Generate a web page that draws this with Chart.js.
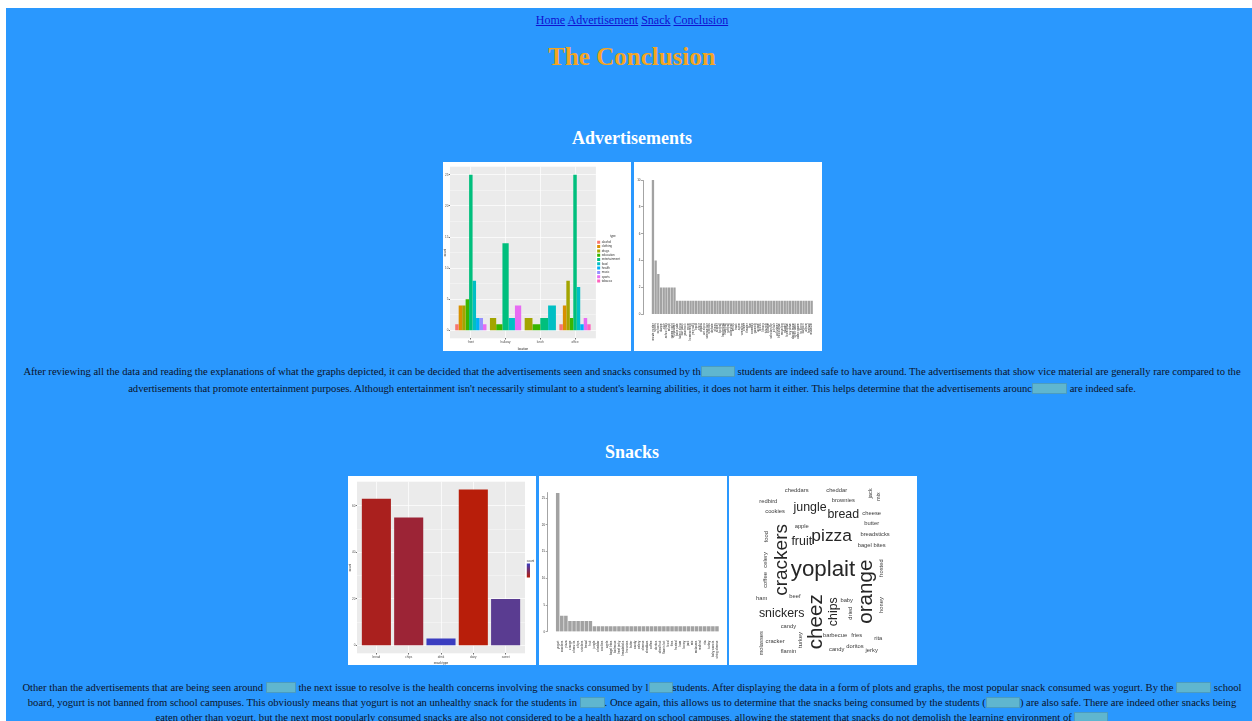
<!DOCTYPE html>
<html>
<head>
<meta charset="utf-8">
<title>The Conclusion</title>
<script src="https://cdn.jsdelivr.net/npm/chart.js@4.4.1/dist/chart.umd.min.js"></script>
<style>
  html { margin: 0; background: #fff; overflow: hidden; }
  body { margin: 8px 0 0 6px; width: 1252px; height: 760px; background: #2a98fe; position: relative;
         font-family: "Liberation Serif", "Times New Roman", serif; }
  .line { position: absolute; left: 0; width: 100%; text-align: center; white-space: nowrap; }
  #nav { top: 5px; font-size: 12px; line-height: 14px; }
  #nav a { color: #1010d0; }
  #title { top: 34px; font-size: 25px; line-height: 30px; font-weight: bold; color: #f4a522; }
  .head { font-size: 18px; line-height: 22px; font-weight: bold; color: #fff; }
  .fig { position: absolute; width: 188px; height: 189px; background: #fff; }
  .fig canvas { display: block; }
  .para { font-size: 10.6px; color: #0a1228; }
  .p1 { line-height: 17px; }
  .p2 { line-height: 15px; }
  .box { display: inline-block; height: 11px; background: #5fb6cf; border: 1px solid #4b9cc0;
         box-sizing: border-box; vertical-align: -2px; }
</style>
</head>
<body>
<div id="nav" class="line"><a href="#">Home</a> <a href="#">Advertisement</a> <a href="#">Snack</a> <a href="#">Conclusion</a></div>
<div id="title" class="line">The Conclusion</div>

<div class="line head" style="top:119px">Advertisements</div>
<div class="fig" style="left:437px;top:154px"><canvas id="adType" width="188" height="189"></canvas></div>
<div class="fig" style="left:628px;top:154px"><canvas id="adCount" width="188" height="189"></canvas></div>

<div class="line para p1" style="top:355px">After reviewing all the data and reading the explanations of what the graphs depicted, it can be decided that the advertisements seen and snacks consumed by th<span class="box" style="width:34px"></span> students are indeed safe to have around. The advertisements that show vice material are generally rare compared to the</div>
<div class="line para p1" style="top:372px">advertisements that promote entertainment purposes. Although entertainment isn't necessarily stimulant to a student's learning abilities, it does not harm it either. This helps determine that the advertisements arounc<span class="box" style="width:35px"></span> are indeed safe.</div>

<div class="line head" style="top:433px">Snacks</div>
<div class="fig" style="left:342px;top:468px"><canvas id="snackGroup" width="188" height="189"></canvas></div>
<div class="fig" style="left:533px;top:468px"><canvas id="snackCount" width="188" height="189"></canvas></div>
<div class="fig" style="left:723px;top:468px"><canvas id="snackCloud" width="188" height="189"></canvas></div>

<div class="line para p2" style="top:672px">Other than the advertisements that are being seen around <span class="box" style="width:30px"></span> the next issue to resolve is the health concerns involving the snacks consumed by l<span class="box" style="width:24px"></span>students. After displaying the data in a form of plots and graphs, the most popular snack consumed was yogurt. By the <span class="box" style="width:35px"></span> school</div>
<div class="line para p2" style="top:687px">board, yogurt is not banned from school campuses. This obviously means that yogurt is not an unhealthy snack for the students in <span class="box" style="width:25px"></span>. Once again, this allows us to determine that the snacks being consumed by the students (<span class="box" style="width:34px"></span>) are also safe. There are indeed other snacks being</div>
<div class="line para p2" style="top:702px">eaten other than yogurt, but the next most popularly consumed snacks are also not considered to be a health hazard on school campuses, allowing the statement that snacks do not demolish the learning environment of <span class="box" style="width:34px;height:18px;vertical-align:-9px"></span></div>

<script>
// advertisement types seen at each location
const locations = ['front', 'hallway', 'lunch', 'office'];
const adTypes = ['alcohol', 'clothing', 'drugs', 'education', 'entertainment', 'food', 'health', 'music', 'sports', 'tobacco'];
const adTypeCounts = [
  [1, null, null, 1],
  [4, null, null, 4],
  [4, 2, 2, 8],
  [5, 1, 1, 2],
  [25, 14, 2, 25],
  [8, 2, 4, 7],
  [2, null, null, 1],
  [2, null, null, null],
  [1, 4, null, 2],
  [null, null, null, 1]
];
const adTypeTicks = [0, 5, 10, 15, 20, 25];

// count of each advertisement
const adNames = ['movie poster', 'sports', 'concert', 'dance', 'club', 'school play', 'music', 'game night', 'fundraiser', 'bake sale',
  'talent show', 'car wash', 'yearbook', 'prom', 'homecoming', 'pep rally', 'band', 'choir', 'drama', 'art show',
  'science fair', 'robotics', 'debate', 'chess', 'soccer', 'football', 'basketball', 'baseball', 'softball', 'volleyball',
  'tennis', 'track', 'swim', 'wrestling', 'cheer', 'theater', 'film', 'comedy', 'gaming', 'anime',
  'books', 'library', 'tutoring', 'college', 'scholarship', 'job fair', 'volunteer', 'blood drive', 'recycling', 'garden',
  'food drive', 'toy drive', 'dance team', 'spirit week', 'video game', 'tv show', 'cartoon', 'album', 'festival', 'museum'];
const adCounts = [10, 4, 3, 2, 2, 2, 2, 2, 2,
  1, 1, 1, 1, 1, 1, 1, 1, 1, 1,
  1, 1, 1, 1, 1, 1, 1, 1, 1, 1,
  1, 1, 1, 1, 1, 1, 1, 1, 1, 1,
  1, 1, 1, 1, 1, 1, 1, 1, 1, 1,
  1, 1, 1, 1, 1, 1, 1, 1, 1, 1,
  1];
const adCountTicks = [0, 2, 4, 6, 8, 10];

// snacks by kind
const snackGroups = ['bread', 'chips', 'drink', 'dairy', 'sweet'];
const snackGroupCounts = [63, 55, 3, 67, 20];
const snackGroupTicks = [0, 20, 40, 60];

// count of each snack
const snackNames = ['yogurt', 'crackers', 'pizza', 'orange', 'cheez its', 'chips', 'snickers', 'bread', 'fruit', 'jungle',
  'cheddar', 'cookies', 'apple', 'bagel bites', 'barbecue', 'beef jerky', 'breadsticks', 'brownies', 'butter', 'candy',
  'celery', 'cheese', 'cheddars', 'coffee', 'doritos', 'dried fruit', 'flamin hot', 'food', 'fries', 'frosted',
  'ham', 'honey', 'jack', 'mix', 'molasses', 'redbird', 'rita', 'turkey', 'baby carrots', 'string cheese'];
const snackCounts = [26, 3, 3, 2, 2, 2, 2, 2, 2,
  1, 1, 1, 1, 1, 1, 1, 1, 1, 1,
  1, 1, 1, 1, 1, 1, 1, 1, 1, 1,
  1, 1, 1, 1, 1, 1, 1, 1, 1, 1,
  1];
const snackCountTicks = [0, 5, 10, 15, 20, 25];

// word cloud of snack words (x, y in percent of the picture)
const cloudWords = ['cheddars', 'cheddar', 'jack', 'mix', 'redbird', 'brownies', 'cookies', 'jungle', 'bread', 'cheese',
  'butter', 'apple', 'crackers', 'fruit', 'pizza', 'breadsticks', 'bagel bites', 'yoplait', 'orange', 'cheez',
  'chips', 'snickers', 'coffee', 'celery', 'food', 'frosted', 'honey', 'ham', 'beef', 'baby',
  'dried', 'candy', 'turkey', 'barbecue', 'fries', 'rita', 'cracker', 'molasses', 'flamin', 'candy',
  'doritos', 'jerky'];
const cloudFreq = [2, 2, 2, 2, 2, 2, 2, 6, 6, 2,
  2, 2, 10, 6, 9, 2, 2, 12, 11, 11,
  6, 6, 2, 2, 2, 2, 2, 2, 2, 2,
  2, 2, 2, 2, 2, 2, 2, 2, 2, 2,
  2, 2];
const cloudX = [36, 57.3, 75, 79.4, 20.9, 60.8, 24.5, 43.1, 60.8, 75.9,
  75.9, 38.7, 28.3, 38.7, 54.6, 77.7, 75.9, 50, 73.2, 46.6,
  55.5, 28, 19.5, 19.5, 20, 81.2, 81.2, 17.4, 35.1, 62.6,
  64.4, 31.6, 37.8, 56.4, 67.9, 79.4, 24.5, 17.4, 31.6, 57.3,
  67, 75.9];
const cloudY = [7.4, 7.4, 9.2, 11, 13.2, 12.7, 18.9, 16.6, 20.6, 19.7,
  25, 26.8, 44.4, 34.8, 32.1, 30.8, 36.5, 49.7, 61.2, 77.1,
  71.8, 72.6, 55, 44.4, 32.1, 48.8, 68.3, 64.7, 63.9, 65.6,
  72.6, 79.7, 86.8, 84.1, 84.1, 85.9, 87.7, 88.5, 93, 91.5,
  90.3, 92.1];
const cloudVertical = [0, 0, 1, 1, 0, 0, 0, 0, 0, 0,
  0, 0, 1, 0, 0, 0, 0, 0, 1, 1,
  1, 0, 1, 1, 1, 1, 1, 0, 0, 0,
  1, 0, 1, 0, 0, 0, 0, 1, 0, 0,
  0, 0];

const hueColors = ['#F8766D', '#D89000', '#A3A500', '#39B600', '#00BF7D', '#00BFC4', '#00B0F6', '#9590FF', '#E76BF3', '#FF62BC'];
const snackGroupColors = ['#aa201e', '#9c2436', '#3a3dc0', '#b81e0a', '#5a3c91'];

Chart.defaults.animation = false;
Chart.defaults.responsive = false;
Chart.defaults.devicePixelRatio = 1;
Chart.defaults.font.family = '"Liberation Sans", Arial, sans-serif';
Chart.defaults.plugins.tooltip.enabled = false;

// grey ggplot panel behind the bars
const panelBg = {
  id: 'panelBg',
  beforeDraw(chart, args, opts) {
    if (!opts.color) return;
    const { ctx, chartArea: a } = chart;
    ctx.save();
    ctx.fillStyle = opts.color;
    ctx.fillRect(a.left, a.top, a.width, a.height);
    ctx.restore();
  }
};

const tickList = list => scale => { scale.ticks = list.map(v => ({ value: v })); };
const isMajor = list => c => c.tick && list.includes(c.tick.value);

function ggY(min, max, major, minor) {
  const major_ = isMajor(major);
  return {
    min: min, max: max,
    afterBuildTicks: tickList(major.concat(minor)),
    ticks: { font: { size: 3 }, color: '#4d4d4d', padding: 0.5, callback: v => major.includes(v) ? v : '' },
    grid: { color: '#fff', lineWidth: c => major_(c) ? 0.7 : 0.35, tickLength: 1.2,
            tickColor: c => major_(c) ? '#333' : 'rgba(0,0,0,0)' },
    border: { display: false },
    title: { display: true, text: 'count', font: { size: 3 }, padding: 0, color: '#222' }
  };
}

function ggX(names, title, height) {
  return {
    type: 'linear', offset: false, min: -0.6, max: names.length - 0.4,
    afterBuildTicks: tickList(names.map((_, i) => i)),
    afterFit: s => { s.height = height; },
    ticks: { font: { size: 3 }, color: '#4d4d4d', padding: 0.5, maxRotation: 0, autoSkip: false, callback: v => names[v] },
    grid: { offset: false, color: '#fff', lineWidth: 0.7, tickLength: 1.2, tickColor: '#333' },
    border: { display: false },
    title: { display: true, text: title, font: { size: 3 }, padding: 0, color: '#222' }
  };
}

// Advertisement types by location
const adTypeY = ggY(-1.25, 26.3, adTypeTicks, [2.5, 7.5, 12.5, 17.5, 22.5]);
adTypeY.afterFit = s => { s.width = 7; };
new Chart(document.getElementById('adType'), {
  type: 'bar',
  data: {
    datasets: adTypes.map((name, i) => ({
      label: name,
      data: adTypeCounts[i].map((v, g) => ({ x: g, y: v })),
      backgroundColor: hueColors[i],
      borderWidth: 0,
      skipNull: true,
      categoryPercentage: 0.9,
      barPercentage: 1
    }))
  },
  options: {
    layout: { padding: { top: 4.7, right: 1, left: 0, bottom: 0 } },
    scales: { x: ggX(locations, 'location', 12.7), y: adTypeY },
    plugins: {
      legend: {
        position: 'right',
        labels: { boxWidth: 3, boxHeight: 3, padding: 1.3, font: { size: 3 }, color: '#333' },
        title: { display: true, text: 'type', font: { size: 3 }, padding: 1, color: '#333' }
      },
      panelBg: { color: '#ebebeb' }
    }
  },
  plugins: [panelBg]
});

// base R style barplot with an axis standing apart from the bars
function rBars(id, names, counts, ticks, box) {
  new Chart(document.getElementById(id), {
    type: 'bar',
    data: {
      datasets: [{
        data: counts.map((v, i) => ({ x: i, y: v })),
        backgroundColor: '#a2a2a2',
        borderWidth: 0,
        categoryPercentage: 1,
        barPercentage: 0.86
      }]
    },
    options: {
      layout: { padding: { top: box.top, right: box.right, left: 0, bottom: 0 } },
      scales: {
        x: {
          type: 'linear', offset: false, min: box.xMin, max: names.length - 0.5,
          afterBuildTicks: tickList(names.map((_, i) => i)),
          afterFit: s => { s.height = box.xHeight; },
          ticks: { autoSkip: false, minRotation: 90, maxRotation: 90, font: { size: 3 }, color: '#333', padding: 1,
                   callback: v => names[v] },
          grid: { display: false },
          border: { display: false }
        },
        y: {
          min: 0, max: box.yMax,
          afterBuildTicks: tickList(ticks),
          afterFit: s => { s.width = box.yWidth; },
          ticks: { font: { size: 3 }, color: '#333', padding: 0.5 },
          grid: { drawOnChartArea: false, tickLength: 2, color: '#666', lineWidth: 0.6 },
          border: { color: '#666', width: 0.6 }
        }
      },
      plugins: { legend: { display: false } }
    }
  });
}

rBars('adCount', adNames, adCounts, adCountTicks,
  { top: 18, right: 9, xHeight: 36.7, yWidth: 9, xMin: -3.7, yMax: 10 });
rBars('snackCount', snackNames, snackCounts, snackCountTicks,
  { top: 16.9, right: 8, xHeight: 33.3, yWidth: 8.7, xMin: -2.45, yMax: 26 });

// small colour bar legend for the snack groups chart
const colorBar = {
  id: 'colorBar',
  afterDraw(chart, args, opts) {
    const { ctx, chartArea: a } = chart;
    const x = a.right + 1.8, h = 14, y = (a.top + a.bottom) / 2 - 4;
    const g = ctx.createLinearGradient(0, y, 0, y + h);
    g.addColorStop(0, opts.low);
    g.addColorStop(1, opts.high);
    ctx.save();
    ctx.fillStyle = g;
    ctx.fillRect(x, y, 3.2, h);
    ctx.fillStyle = '#333';
    ctx.font = '3px "Liberation Sans"';
    ctx.fillText(opts.title, x, y - 1.5);
    ctx.restore();
  }
};

const snackGroupY = ggY(-3.35, 70.35, snackGroupTicks, [10, 30, 50]);
snackGroupY.afterFit = s => { s.width = 9; };
new Chart(document.getElementById('snackGroup'), {
  type: 'bar',
  data: {
    datasets: [{
      data: snackGroupCounts.map((v, i) => ({ x: i, y: v })),
      backgroundColor: snackGroupColors,
      borderWidth: 0,
      categoryPercentage: 0.9,
      barPercentage: 1
    }]
  },
  options: {
    layout: { padding: { top: 5.7, right: 11, left: 0, bottom: 0 } },
    scales: { x: ggX(snackGroups, 'snack type', 11.7), y: snackGroupY },
    plugins: {
      legend: { display: false },
      panelBg: { color: '#ebebeb' },
      colorBar: { low: '#3a3dc0', high: '#b81e0a', title: 'count' }
    }
  },
  plugins: [panelBg, colorBar]
});

// word cloud: each word sits on a scatter point and is written there
const wordLabels = {
  id: 'wordLabels',
  afterDatasetsDraw(chart) {
    const ctx = chart.ctx;
    chart.getDatasetMeta(0).data.forEach((pt, i) => {
      ctx.save();
      ctx.translate(pt.x, pt.y);
      if (cloudVertical[i]) ctx.rotate(-Math.PI / 2);
      ctx.font = (2.5 + 1.65 * cloudFreq[i]).toFixed(1) + 'px "Liberation Sans", Arial, sans-serif';
      ctx.fillStyle = cloudFreq[i] > 2 ? '#262626' : '#3a3a3a';
      ctx.textAlign = 'center';
      ctx.textBaseline = 'middle';
      ctx.fillText(cloudWords[i], 0, 0);
      ctx.restore();
    });
  }
};

new Chart(document.getElementById('snackCloud'), {
  type: 'scatter',
  data: { datasets: [{ data: cloudWords.map((w, i) => ({ x: cloudX[i], y: cloudY[i] })), pointRadius: 0 }] },
  options: {
    layout: { padding: 0 },
    scales: {
      x: { display: false, min: 0, max: 100 },
      y: { display: false, min: 0, max: 100, reverse: true }
    },
    plugins: { legend: { display: false } }
  },
  plugins: [wordLabels]
});
</script>
</body>
</html>
